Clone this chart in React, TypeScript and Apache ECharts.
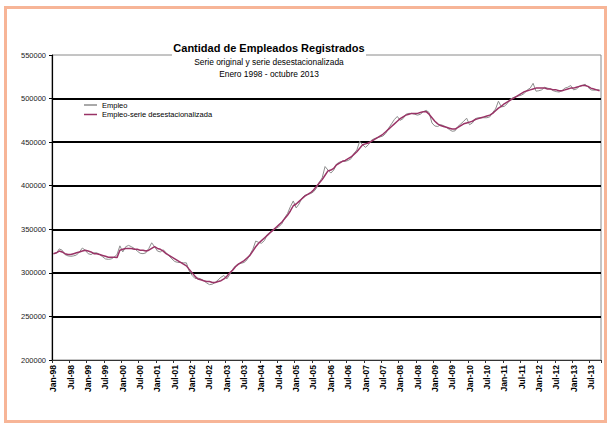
import React, { useEffect, useRef } from "react";
import * as echarts from "echarts";

const monthNames = ["Jan", "Feb", "Mar", "Apr", "May", "Jun", "Jul", "Aug", "Sep", "Oct", "Nov", "Dec"];
const yearLabels = ["98", "99", "00", "01", "02", "03", "04", "05", "06", "07", "08", "09", "10", "11", "12", "13"];
const lastYearMonths = 10; // enero 1998 - octubre 2013

const categories: string[] = [];
yearLabels.forEach((y, yi) => {
  const n = yi === yearLabels.length - 1 ? lastYearMonths : 12;
  for (let m = 0; m < n; m++) categories.push(`${monthNames[m]}-${y}`);
});

// Empleo (serie original)
const empleo = [
  // 1998
  322000, 322500, 327500, 326000, 321000, 319500, 319000, 319500, 320500, 324000, 328500, 326000,
  // 1999
  322000, 321000, 323000, 323000, 321000, 318500, 316000, 315500, 316000, 318000, 321000, 331000,
  // 2000
  324000, 330000, 331500, 330000, 328000, 325000, 322500, 322000, 323000, 328000, 334500, 330000,
  // 2001
  325000, 324000, 326500, 323000, 319500, 316000, 313000, 312000, 312000, 311500, 311500, 302000,
  // 2002
  297000, 293500, 294000, 293000, 291000, 288500, 286500, 287000, 289000, 292000, 295000, 297000,
  // 2003
  293000, 298000, 304000, 308000, 310000, 311000, 312000, 315000, 321000, 327000, 336500, 335000,
  // 2004
  334000, 337000, 344000, 347000, 349000, 351000, 353000, 356000, 363000, 368000, 376000, 382500,
  // 2005
  374500, 379000, 386000, 389000, 390000, 391000, 393000, 397000, 404000, 409000, 422000, 418000,
  // 2006
  414500, 418000, 425000, 427000, 428000, 428000, 429000, 431000, 437000, 441000, 451000, 447000,
  // 2007
  444000, 447000, 452000, 454000, 455000, 456000, 457000, 460000, 466000, 471000, 476000, 479500,
  // 2008
  475000, 477000, 482000, 483000, 483000, 482000, 481000, 482000, 485000, 486500, 484000, 472000,
  // 2009
  468500, 468000, 470000, 469000, 467000, 464500, 462500, 463000, 468000, 471000, 474000, 477500,
  // 2010
  470000, 472000, 477000, 478000, 478000, 478000, 478000, 479000, 484000, 488000, 497000, 490500,
  // 2011
  491000, 494000, 499000, 501000, 502000, 503000, 504000, 506000, 510000, 512000, 517500, 508500,
  // 2012
  509000, 510000, 513000, 512000, 511000, 509000, 508000, 507500, 509000, 512000, 513000, 515000,
  // 2013
  510000, 511000, 514000, 515000, 516500, 513000, 510000, 509500, 510000, 510000,
];

// Empleo - serie desestacionalizada
const empleoDesest = [
  // 1998
  322000, 323000, 325000, 324000, 322000, 321000, 321000, 322000, 323000, 324000, 325000, 326000,
  // 1999
  325000, 324000, 322000, 322000, 321000, 320000, 319000, 318000, 318000, 318000, 317500, 326000,
  // 2000
  327000, 328000, 328000, 328000, 327000, 327000, 326000, 326000, 325000, 326000, 328000, 330000,
  // 2001
  328000, 327000, 325000, 322000, 320000, 318000, 316000, 314000, 312000, 310000, 308000, 304000,
  // 2002
  300000, 296000, 293000, 292000, 291000, 290000, 290000, 289000, 289000, 290000, 291000, 293000,
  // 2003
  296000, 300000, 303000, 307000, 310000, 312000, 314000, 317000, 320000, 325000, 330000, 334000,
  // 2004
  337000, 340000, 343000, 346000, 349000, 352000, 355000, 358000, 362000, 366000, 371000, 377000,
  // 2005
  379000, 382000, 385000, 388000, 390000, 392000, 395000, 399000, 403000, 407000, 412000, 417000,
  // 2006
  418000, 420000, 424000, 426000, 428000, 429000, 431000, 433000, 436000, 439000, 443000, 447000,
  // 2007
  448000, 449000, 451000, 453000, 455000, 457000, 459000, 462000, 465000, 468000, 471000, 474000,
  // 2008
  477000, 479000, 481000, 482000, 483000, 483000, 483000, 484000, 485000, 485000, 482000, 478000,
  // 2009
  474000, 471000, 469000, 468000, 467000, 466000, 465000, 465000, 467000, 469000, 471000, 472000,
  // 2010
  473000, 474000, 476000, 477000, 478000, 479000, 480000, 481000, 483000, 486000, 489000, 491000,
  // 2011
  494000, 496000, 498000, 500000, 502000, 504000, 506000, 508000, 509000, 510000, 511000, 512000,
  // 2012
  512000, 512000, 512000, 511000, 511000, 510000, 510000, 509000, 509000, 510000, 511000, 512000,
  // 2013
  512000, 513000, 514000, 515000, 515000, 514000, 512000, 511000, 510000, 509000,
];

const titleText = "Cantidad de Empleados Registrados";
const subtitle1 = "Serie original y serie desestacionalizada";
const subtitle2 = "Enero 1998 - octubre 2013";
const seriesNames = ["Empleo", "Empleo-serie desestacionalizada"];

const FONT = '"Liberation Sans", Arial, sans-serif';

export default function App() {
  const ref = useRef<HTMLDivElement>(null);

  useEffect(() => {
    if (!ref.current) return;
    const chart = echarts.init(ref.current, undefined, { renderer: "svg" });
    const clear = "rgba(0,0,0,0)";
    chart.setOption({
      animation: false,
      backgroundColor: "#ffffff",
      textStyle: { fontFamily: FONT },
      grid: {
        left: 52,
        right: 10,
        top: 55,
        bottom: 67,
        show: true,
        borderColor: "#8a8a8a",
        borderWidth: 1,
        backgroundColor: "#ffffff",
      },
      legend: {
        orient: "vertical",
        left: 84,
        top: 100.5,
        itemWidth: 13,
        itemHeight: 1.5,
        itemGap: 0.5,
        icon: "rect",
        padding: 0,
        textStyle: { fontSize: 7.5, color: "#000", fontFamily: FONT, lineHeight: 9 },
        data: seriesNames,
      },
      xAxis: {
        type: "category",
        data: categories,
        boundaryGap: true,
        axisLine: { lineStyle: { color: "#333", width: 1 } },
        axisTick: { show: true, interval: 5, length: 3, alignWithLabel: false, lineStyle: { color: "#333" } },
        axisLabel: {
          interval: 5,
          rotate: 90,
          fontSize: 8.5,
          fontWeight: "bold",
          color: "#000",
          margin: 5,
          fontFamily: FONT,
        },
        splitLine: { show: false },
      },
      yAxis: {
        type: "value",
        min: 200000,
        max: 550000,
        interval: 50000,
        axisLine: { show: true, lineStyle: { color: "#000", width: 1.2 } },
        axisTick: { show: true, length: 3, inside: false, lineStyle: { color: "#000" } },
        axisLabel: {
          fontSize: 7.5,
          color: "#222",
          margin: 6,
          fontFamily: FONT,
          formatter: (v: number) => String(v),
        },
        splitLine: {
          show: true,
          lineStyle: { color: [clear, "#000", "#000", "#000", "#000", "#000", "#000", clear], width: 2 },
        },
      },
      series: [
        {
          name: seriesNames[0],
          type: "line",
          data: empleo,
          symbol: "none",
          lineStyle: { color: "#8c8c8c", width: 1 },
          itemStyle: { color: "#8c8c8c" },
          z: 2,
        },
        {
          name: seriesNames[1],
          type: "line",
          data: empleoDesest,
          symbol: "none",
          lineStyle: { color: "#993366", width: 1.5 },
          itemStyle: { color: "#993366" },
          z: 3,
        },
      ],
      graphic: [
        {
          type: "rect",
          z: 100,
          silent: true,
          shape: { x: 5.5, y: 7.5, width: 600, height: 414 },
          style: { fill: "none", stroke: "#F7B597", lineWidth: 3 },
        },
        {
          type: "rect",
          z: 100,
          silent: true,
          shape: { x: 172, y: 50, width: 194, height: 8 },
          style: { fill: "#ffffff" },
        },
        {
          type: "text",
          z: 101,
          silent: true,
          x: 269,
          y: 48,
          style: {
            text: titleText,
            font: `bold 11px ${FONT}`,
            fill: "#000",
            textAlign: "center",
            textVerticalAlign: "middle",
          },
        },
        {
          type: "text",
          z: 101,
          silent: true,
          x: 269,
          y: 62,
          style: {
            text: subtitle1,
            font: `8.4px ${FONT}`,
            fill: "#000",
            textAlign: "center",
            textVerticalAlign: "middle",
          },
        },
        {
          type: "text",
          z: 101,
          silent: true,
          x: 269,
          y: 74,
          style: {
            text: subtitle2,
            font: `8.4px ${FONT}`,
            fill: "#000",
            textAlign: "center",
            textVerticalAlign: "middle",
          },
        },
      ],
    });
    return () => chart.dispose();
  }, []);

  return (
    <div
      ref={ref}
      style={{ position: "absolute", left: 0, top: 0, width: 611, height: 427 }}
    />
  );
}
